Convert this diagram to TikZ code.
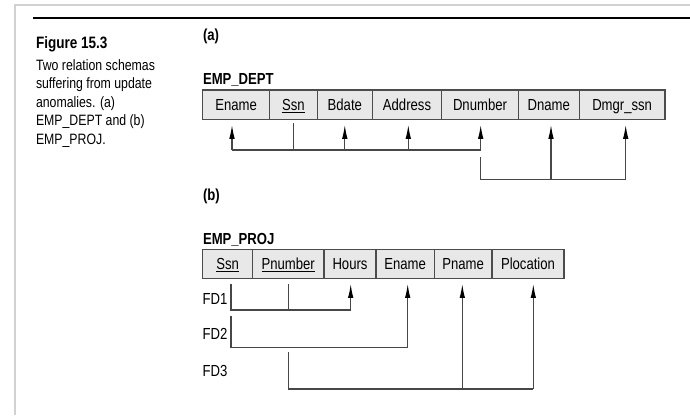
\documentclass[tikz,border=0pt]{standalone}
\usepackage{fontspec}
\setmainfont{Liberation Sans}[FakeStretch=0.82]
\usetikzlibrary{arrows.meta,calc}
\newcommand\mycellfont{\fontsize{16}{19}\selectfont}
\newcommand\mycapfont{\fontsize{15}{18}\selectfont}
\newcommand\myheadfont{\fontsize{16}{19}\selectfont\bfseries}
\newcommand\myfigfont{\fontsize{16.5}{19}\selectfont\bfseries}
\begin{document}
\begin{tikzpicture}[x=1pt,y=-1pt,
  cell/.style={draw=black!70, line width=1.2pt, fill=black!9, minimum height=29.3pt,
    inner sep=0pt, outer sep=0pt, font=\mycellfont, text height=11.5pt, text depth=0pt},
  ln/.style={draw=black!72, line width=1.2pt},
  arr/.style={ln, -{Latex[length=14pt,width=5.5pt,color=black]}, shorten >=5.5pt},
  lbl/.style={inner sep=0pt, outer sep=0pt, anchor=base west},
]
\useasboundingbox (0,0) rectangle (690,415);
% frame and rule
\draw[black!18, line width=1.5pt] (15,415) -- (15,5) -- (690,5);
\draw[black, line width=2.2pt] (33,18) -- (690,18);
% caption
\node[lbl, font=\myfigfont] (fig) at (36,48) {Figure 15.3};
\node[lbl, font=\mycapfont] (c1) at (36,70) {Two relation schemas};
\node[lbl, font=\mycapfont] (c2) at (36,88.5) {suffering from update};
\node[lbl, font=\mycapfont] (c3) at (36,107) {anomalies. (a)};
\node[lbl, font=\mycapfont] (c4) at (36,125.5) {EMP\_DEPT and (b)};
\node[lbl, font=\mycapfont] (c5) at (36,144) {EMP\_PROJ.};
% (a)
\node[lbl, font=\myheadfont] (la) at (203,40) {(a)};
\node[lbl, font=\myheadfont] (ed) at (203,84) {EMP\_DEPT};
\node[cell, minimum width=66.8pt] (d1) at (236.1,104.65) {Ename};
\node[cell, minimum width=47.8pt] (d2) at (293.4,104.65) {\underline{Ssn}};
\node[cell, minimum width=55pt]   (d3) at (344.8,104.65) {Bdate};
\node[cell, minimum width=69.4pt] (d4) at (407.0,104.65) {Address};
\node[cell, minimum width=76.6pt] (d5) at (480.0,104.65) {Dnumber};
\node[cell, minimum width=61pt]   (d6) at (548.8,104.65) {Dname};
\node[cell, minimum width=85.7pt] (d7) at (622.15,104.65) {Dmgr\_ssn};
% FDs of EMP_DEPT
\coordinate (a1) at (232,150);
\coordinate (a2) at (480.7,150);
\draw[ln] (a1) -- (a2);
\draw[arr] (a1) -- (a1 |- d1.south);
\draw[ln, shorten <=4pt] (d2.south) -- (d2.south |- a1);
\draw[arr] (d3.south |- a1) -- (d3.south);
\draw[arr] (408.3,150) coordinate (a3) -- (a3 |- d4.south);
\draw[arr] (a2) -- (a2 |- d5.south);
\coordinate (b1) at (480.7,157);
\coordinate (b2) at (480.7,179.3);
\coordinate (b3) at (551,179.3);
\coordinate (b4) at (625.7,179.3);
\draw[ln] (b1) -- (b2) -- (b4);
\draw[arr] (b3) -- (b3 |- d6.south);
\draw[arr] (b4) -- (b4 |- d7.south);
% (b)
\node[lbl, font=\myheadfont] (lb) at (203,200) {(b)};
\node[lbl, font=\myheadfont] (ep) at (203,244) {EMP\_PROJ};
\node[cell, minimum width=49.8pt] (p1) at (227.6,263.8) {\underline{Ssn}};
\node[cell, minimum width=71.5pt] (p2) at (288.25,263.8) {\underline{Pnumber}};
\node[cell, minimum width=52pt]   (p3) at (350,263.8) {Hours};
\node[cell, minimum width=58.3pt] (p4) at (405.15,263.8) {Ename};
\node[cell, minimum width=57.7pt] (p5) at (463.15,263.8) {Pname};
\node[cell, minimum width=72pt]   (p6) at (528,263.8) {Plocation};
% FD labels
\node[lbl, font=\mycellfont] (fd1) at (202.7,304) {FD1};
\node[lbl, font=\mycellfont] (fd2) at (202.7,339) {FD2};
\node[lbl, font=\mycellfont] (fd3) at (202.7,376.5) {FD3};
% FD1
\coordinate (f1a) at (231,284);
\coordinate (f1b) at (231,310);
\coordinate (f1c) at (288.7,284);
\coordinate (f1d) at (288.7,310);
\coordinate (f1e) at (350.7,310);
\draw[ln] (f1a) -- (f1b) -- (f1e);
\draw[ln] (f1c) -- (f1d);
\draw[arr] (f1e) -- (f1e |- p3.south);
% FD2
\coordinate (f2a) at (231,316);
\coordinate (f2b) at (231,347.3);
\coordinate (f2c) at (407.7,347.3);
\draw[ln] (f2a) -- (f2b) -- (f2c);
\draw[arr] (f2c) -- (f2c |- p4.south);
% FD3
\coordinate (f3a) at (288.7,352.3);
\coordinate (f3b) at (288.7,389);
\coordinate (f3c) at (462.3,389);
\coordinate (f3d) at (533.3,389);
\draw[ln] (f3a) -- (f3b) -- (f3d);
\draw[arr] (f3c) -- (f3c |- p5.south);
\draw[arr] (f3d) -- (f3d |- p6.south);
\end{tikzpicture}
\end{document}
